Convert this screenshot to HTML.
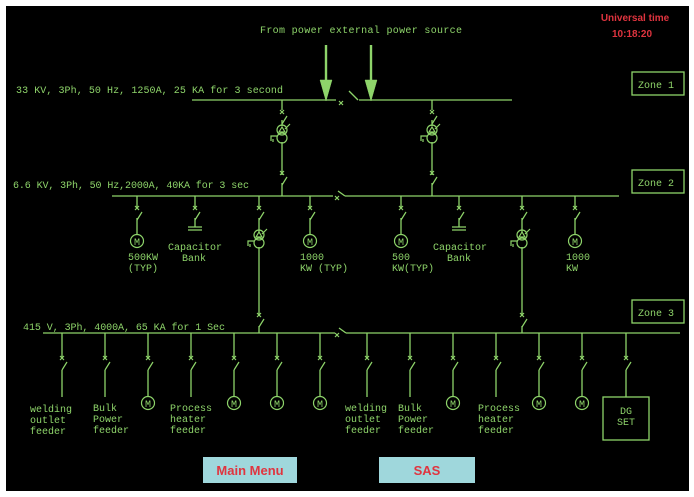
<!DOCTYPE html>
<html><head><meta charset="utf-8"><style>
html,body{margin:0;padding:0;background:#fff;}
svg{display:block;}
text{font-family:"Liberation Mono",monospace;fill:#8ed46a;font-size:10px;}
</style></head><body>
<svg width="694" height="497" viewBox="0 0 694 497" xmlns="http://www.w3.org/2000/svg">
<defs>
<g id="sw" stroke="#8ed46a" stroke-width="1.2" fill="none">
<path d="M-2,-2 L2,2 M2,-2 L-2,2"/>
<path d="M0,12 L5,4"/>
</g>
<g id="xx" stroke="#8ed46a" stroke-width="1.2" fill="none">
<path d="M-2,-2 L2,2 M2,-2 L-2,2"/>
</g>
<g id="mot" stroke="#8ed46a" stroke-width="1.2" fill="none">
<circle cx="0" cy="0" r="6.5"/>
</g>
<g id="tr" stroke="#8ed46a" stroke-width="1.2" fill="none">
<circle cx="0" cy="-4" r="5"/>
<circle cx="0" cy="4" r="5"/>
<path d="M-3,-2 L0,-7 L3,-2 Z M3,-5 L8,-10 M-5,2 L-11,2 L-11,7 M-9,5 L-9,8"/>
</g>
</defs>
<rect x="0" y="0" width="694" height="497" fill="#fff"/>
<rect x="6" y="6" width="683" height="485" fill="#000"/>
<g stroke="#8ed46a" stroke-width="1.3" fill="none">
<path d="M192,100 H336 M359,100 H512"/>
<path d="M349,91 L358,100"/>
<path d="M112,196 H333 M345,196 H619"/>
<path d="M338,191 L345,196"/>
<path d="M43,333 H335 M346,333 H680"/>
<path d="M339,328 L346,333"/>
<rect x="632" y="72" width="52" height="23"/>
<rect x="632" y="170" width="52" height="23"/>
<rect x="632" y="300" width="52" height="23"/>
<rect x="603" y="397" width="46" height="43"/>
<path d="M282,100 V110 M282,120 V126 M282,142 V175 M282,183 V196"/>
<path d="M432,100 V110 M432,120 V126 M432,142 V175 M432,183 V196"/>
<path d="M137,196 V208 M137,218 V234"/>
<path d="M195,196 V208 M195,218 V227 M188,227 H202 M188,230 H202"/>
<path d="M259,196 V208 M259,218 V232 M259,247 V316 M259,326 V333"/>
<path d="M310,196 V208 M310,218 V234"/>
<path d="M401,196 V208 M401,218 V234"/>
<path d="M459,196 V208 M459,218 V227 M452,227 H466 M452,230 H466"/>
<path d="M522,196 V208 M522,218 V232 M522,247 V316 M522,326 V333"/>
<path d="M575,196 V208 M575,218 V234"/>
<path d="M62,333 V358 M62,370 V397"/>
<path d="M105,333 V358 M105,370 V397"/>
<path d="M148,333 V358 M148,370 V396"/>
<path d="M191,333 V358 M191,370 V397"/>
<path d="M234,333 V358 M234,370 V396"/>
<path d="M277,333 V358 M277,370 V396"/>
<path d="M320,333 V358 M320,370 V396"/>
<path d="M367,333 V358 M367,370 V397"/>
<path d="M410,333 V358 M410,370 V397"/>
<path d="M453,333 V358 M453,370 V396"/>
<path d="M496,333 V358 M496,370 V397"/>
<path d="M539,333 V358 M539,370 V396"/>
<path d="M582,333 V358 M582,370 V396"/>
<path d="M626,333 V358 M626,370 V397"/>
</g>
<g fill="#8ed46a" stroke="#8ed46a" stroke-width="2.4">
<path d="M326,45 V85" />
<path d="M371,45 V85" />
<path d="M320,80 L332,80 L326,101 Z" stroke-width="0.5"/>
<path d="M365,80 L377,80 L371,101 Z" stroke-width="0.5"/>
</g>
<use href="#xx" x="341" y="103"/>
<use href="#xx" x="337" y="198"/>
<use href="#xx" x="337" y="335"/>
<use href="#sw" x="282" y="112"/>
<use href="#sw" x="432" y="112"/>
<use href="#sw" x="282" y="173"/>
<use href="#sw" x="432" y="173"/>
<use href="#sw" x="137" y="208"/><use href="#sw" x="195" y="208"/><use href="#sw" x="259" y="208"/><use href="#sw" x="310" y="208"/>
<use href="#sw" x="401" y="208"/><use href="#sw" x="459" y="208"/><use href="#sw" x="522" y="208"/><use href="#sw" x="575" y="208"/>
<use href="#sw" x="259" y="315"/><use href="#sw" x="522" y="315"/>
<use href="#sw" x="62" y="358"/><use href="#sw" x="105" y="358"/><use href="#sw" x="148" y="358"/><use href="#sw" x="191" y="358"/>
<use href="#sw" x="234" y="358"/><use href="#sw" x="277" y="358"/><use href="#sw" x="320" y="358"/><use href="#sw" x="367" y="358"/>
<use href="#sw" x="410" y="358"/><use href="#sw" x="453" y="358"/><use href="#sw" x="496" y="358"/><use href="#sw" x="539" y="358"/>
<use href="#sw" x="582" y="358"/><use href="#sw" x="626" y="358"/>
<use href="#tr" x="282" y="134"/><use href="#tr" x="432" y="134"/>
<use href="#tr" x="259" y="239"/><use href="#tr" x="522" y="239"/>
<use href="#mot" x="137" y="241"/><use href="#mot" x="310" y="241"/><use href="#mot" x="401" y="241"/><use href="#mot" x="575" y="241"/>
<use href="#mot" x="148" y="403"/><use href="#mot" x="234" y="403"/><use href="#mot" x="277" y="403"/><use href="#mot" x="320" y="403"/>
<use href="#mot" x="453" y="403"/><use href="#mot" x="539" y="403"/><use href="#mot" x="582" y="403"/>
<g text-anchor="middle" font-size="9">
<text x="137" y="245">M</text><text x="310" y="245">M</text><text x="401" y="245">M</text><text x="575" y="245">M</text>
<text x="148" y="407">M</text><text x="234" y="407">M</text><text x="277" y="407">M</text><text x="320" y="407">M</text>
<text x="453" y="407">M</text><text x="539" y="407">M</text><text x="582" y="407">M</text>
</g>
<text x="260" y="33" textLength="202">From power external power source</text>
<text x="16" y="93" textLength="267">33 KV, 3Ph, 50 Hz, 1250A, 25 KA for 3 second</text>
<text x="13" y="188" textLength="236">6.6 KV, 3Ph, 50 Hz,2000A, 40KA for 3 sec</text>
<text x="23" y="330" textLength="202">415 V, 3Ph, 4000A, 65 KA for 1 Sec</text>
<text x="638" y="88">Zone 1</text>
<text x="638" y="186">Zone 2</text>
<text x="638" y="316">Zone 3</text>
<text x="128" y="260">500KW</text><text x="128" y="271">(TYP)</text>
<text x="168" y="250">Capacitor</text><text x="182" y="261">Bank</text>
<text x="300" y="260">1000</text><text x="300" y="271">KW (TYP)</text>
<text x="392" y="260">500</text><text x="392" y="271">KW(TYP)</text>
<text x="433" y="250">Capacitor</text><text x="447" y="261">Bank</text>
<text x="566" y="260">1000</text><text x="566" y="271">KW</text>
<text x="30" y="412">welding</text><text x="30" y="423">outlet</text><text x="30" y="434">feeder</text>
<text x="93" y="411">Bulk</text><text x="93" y="422">Power</text><text x="93" y="433">feeder</text>
<text x="170" y="411">Process</text><text x="170" y="422">heater</text><text x="170" y="433">feeder</text>
<text x="345" y="411">welding</text><text x="345" y="422">outlet</text><text x="345" y="433">feeder</text>
<text x="398" y="411">Bulk</text><text x="398" y="422">Power</text><text x="398" y="433">feeder</text>
<text x="478" y="411">Process</text><text x="478" y="422">heater</text><text x="478" y="433">feeder</text>
<text x="626" y="414" text-anchor="middle">DG</text><text x="626" y="425" text-anchor="middle">SET</text>
<text x="635" y="21" text-anchor="middle" style="fill:#e0343f;font-weight:bold;font-size:10px;font-family:'Liberation Sans',sans-serif">Universal time</text>
<text x="632" y="37" text-anchor="middle" style="fill:#e0343f;font-weight:bold;font-size:10px;font-family:'Liberation Sans',sans-serif">10:18:20</text>
<rect x="203" y="457" width="94" height="26" fill="#9fd7dc"/>
<rect x="379" y="457" width="96" height="26" fill="#9fd7dc"/>
<text x="250" y="475" text-anchor="middle" style="fill:#e0343f;font-weight:bold;font-size:13px;font-family:'Liberation Sans',sans-serif">Main Menu</text>
<text x="427" y="475" text-anchor="middle" style="fill:#e0343f;font-weight:bold;font-size:13px;font-family:'Liberation Sans',sans-serif">SAS</text>
</svg>
</body></html>
